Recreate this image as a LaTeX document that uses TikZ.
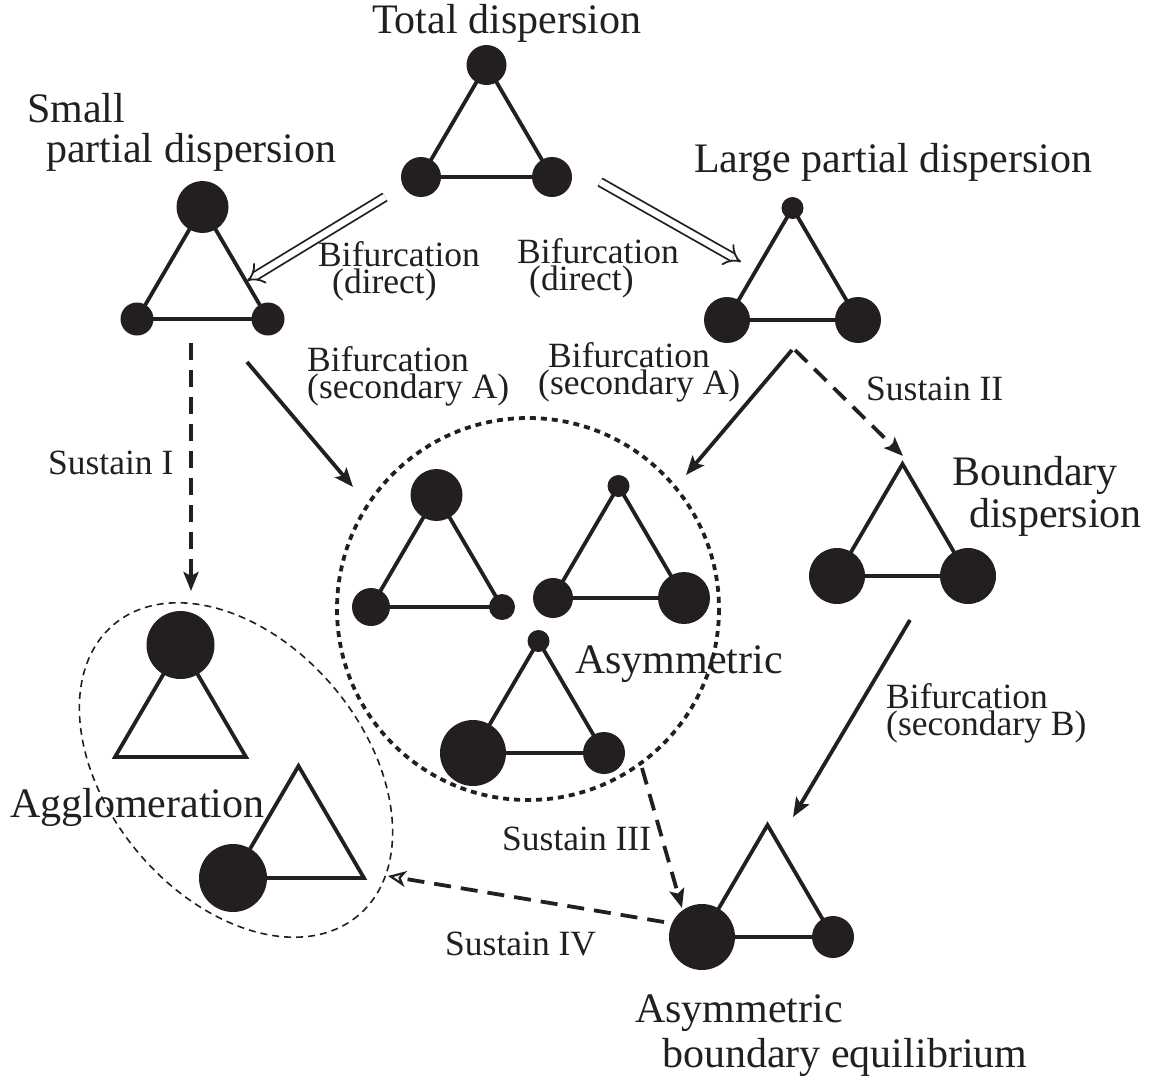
\documentclass[tikz,border=0pt]{standalone}
\usepackage{fontspec}
\setmainfont{Liberation Serif}
\usetikzlibrary{arrows.meta}
\definecolor{ink}{RGB}{35,31,32}
\begin{document}
\begin{tikzpicture}
            [
                x = 1pt, y = -1pt,
                every node/.style = {inner sep=0pt, text=ink},
                dot/.style    = {circle, fill=ink},
                side/.style   = {draw=ink, line width=3.8pt, line join=miter},
                title/.style  = {font=\fontsize{42}{42}\selectfont, align=left, anchor=base west},
                lbl/.style    = {font=\fontsize{35.5}{26.5}\selectfont, align=left, anchor=base west},
                bif/.style    = {draw=ink, line width=3.8pt, -{Stealth[length=19pt, width=15pt, inset=4pt]}},
                sus/.style    = {bif, dash pattern=on 17pt off 10pt},
                direct/.style = {draw=ink, double, double distance=6.5pt, line width=1.8pt, -{Implies[length=12pt]}},
                ring/.style   = {draw=ink, line width=3.8pt, dash pattern=on 6pt off 5pt},
                group/.style  = {draw=ink, line width=1.6pt, dash pattern=on 7pt off 5pt}
            ]
            \useasboundingbox (0,0) rectangle (1151,1079);
            % triangles: base left corner, radii of top, left and right circles
            \foreach \n/\x/\y/\rt/\rl/\rr in {td/421/177/20/20/20, sp/137/319/26/16.5/16.5,
                lp/727/320/11/23/23, aa/371/607/26/19/13, ab/553/598/11/20/26,
                ac/473/753/11/33/21, bd/837/576/0/28/28, ga/115/757/34/0/0,
                gb/233/878/0/34/0, be/702/937/0/33/21}
            {
                \node[dot, minimum size=2*\rt pt] (\n-t) at (\x+65.5,\y-112) {};
                \node[dot, minimum size=2*\rl pt] (\n-l) at (\x,\y) {};
                \node[dot, minimum size=2*\rr pt] (\n-r) at (\x+131,\y) {};
                \draw[side] (\n-t.center) -- (\n-l.center) -- (\n-r.center) -- cycle;
            }
            \draw[ring] (528,609) circle [radius=191];
            \draw[group, rotate around={-50:(236,770)}] (236,770) ellipse [x radius=190, y radius=128];
            % titles (base = last line)
            \node[title] (tot) at (372,33) {Total dispersion};
            \node[title, font=\fontsize{42}{40}\selectfont] (spd) at (27,162) {Small\\\hspace*{19pt}partial dispersion};
            \node[title] (lpd) at (694,172) {Large partial dispersion};
            \node[title] (bdd) at (952,527) {Boundary\\\hspace*{17pt}dispersion};
            \node[title] (asy) at (575,673) {Asymmetric};
            \node[title] (agg) at (10,817) {Agglomeration};
            \node[title, font=\fontsize{42}{45}\selectfont] (abe) at (635,1067) {Asymmetric\\\hspace*{27pt}boundary equilibrium};
            % labels
            \node[lbl] (bdL) at (318,293) {Bifurcation\\\hspace*{14pt}(direct)};
            \node[lbl] (bdR) at (517,290) {Bifurcation\\\hspace*{12pt}(direct)};
            \node[lbl] (bsL) at (307,398) {Bifurcation\\(secondary A)};
            \node[lbl] (bsR) at (548,394) {Bifurcation\\\hspace*{-10pt}(secondary A)};
            \node[lbl] (bsB) at (886,735) {Bifurcation\\(secondary B)};
            \node[lbl] (s1) at (48,474) {Sustain I};
            \node[lbl] (s2) at (866,400) {Sustain II};
            \node[lbl] (s3) at (502,850) {Sustain III};
            \node[lbl] (s4) at (445,955) {Sustain IV};
            % arrow ends
            \coordinate (dL1) at (385,197); \coordinate (dL2) at (247,281);
            \coordinate (dR1) at (600,182); \coordinate (dR2) at (741,262);
            \coordinate (aL1) at (247,362); \coordinate (aL2) at (353,487);
            \coordinate (aR1) at (792,350); \coordinate (aR2) at (686,475);
            \coordinate (bB1) at (910,620); \coordinate (bB2) at (793,817);
            \coordinate (u11) at (191,343); \coordinate (u12) at (191,591);
            \coordinate (u21) at (795,350); \coordinate (u22) at (903,456);
            \coordinate (u31) at (642,768); \coordinate (u32) at (682,908);
            \coordinate (u41) at (664,922); \coordinate (u42) at (388,876);
            \draw[direct] (dL1) -- (dL2);
            \draw[direct] (dR1) -- (dR2);
            \draw[bif] (aL1) -- (aL2);
            \draw[bif] (aR1) -- (aR2);
            \draw[bif] (bB1) -- (bB2);
            \draw[sus] (u11) -- (u12);
            \draw[sus] (u21) -- (u22);
            \draw[sus] (u31) -- (u32);
            \draw[sus, -{Stealth[open, length=18pt, width=16pt, inset=5pt, line width=2.2pt]}] (u41) -- (u42);
        \end{tikzpicture}
\end{document}
